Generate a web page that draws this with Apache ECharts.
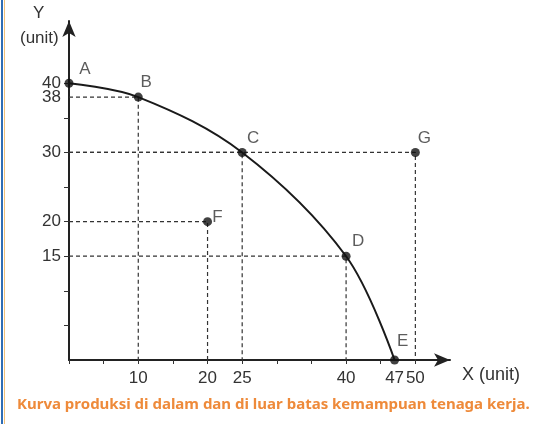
<!DOCTYPE html>
<html>
<head>
<meta charset="utf-8">
<script src="https://cdn.jsdelivr.net/npm/echarts@6/dist/echarts.min.js"></script>
<style>html,body{margin:0;padding:0;background:#fff}#c{width:545px;height:424px}</style>
</head>
<body>
<div id="c"></div>
<script>
// ---- data ----
var pointNames = ['A', 'B', 'C', 'D', 'E', 'F', 'G'];
var pointX = [0, 10, 25, 40, 47, 20, 50];
var pointY = [40, 38, 30, 15, 0, 20, 30];
var curveNames = ['A', 'B', 'C', 'D', 'E'];
var guideNames = ['B', 'C', 'D', 'F', 'G'];
var xTickValues = [0, 5, 10, 15, 20, 25, 30, 35, 40, 45, 50];
var xLabelValues = [10, 20, 25, 40, 47, 50];
var yTickValues = [5, 10, 15, 20, 25, 30, 35, 40];
var yLabelValues = [15, 20, 30, 40];
var yLabelValuesExtra = [38];
var caption = 'Kurva produksi di dalam dan di luar batas kemampuan tenaga kerja.';

// ---- build ----
function pt(n) { var i = pointNames.indexOf(n); return [pointX[i], pointY[i]]; }
var labelOffsets = { A: [16, -14], B: [8, -15], C: [11, -14], D: [12, -15], E: [8, -19], F: [10, -4], G: [9, -14] };

var series = [];
guideNames.forEach(function (n) {
  var p = pt(n);
  series.push({
    type: 'line', silent: true, symbol: 'none', animation: false,
    data: [[0, p[1]], [p[0], p[1]], [p[0], 0]],
    lineStyle: { color: '#333', width: 1.2, type: [4, 3] }
  });
});
series.push({
  type: 'line', symbol: 'none', animation: false, smooth: 0.35,
  data: curveNames.map(pt),
  lineStyle: { color: '#1a1a1a', width: 2 }
});
series.push({
  type: 'scatter', animation: false, symbolSize: 9, z: 5,
  itemStyle: { color: '#111' },
  data: pointNames.map(function (n) {
    return {
      value: pt(n),
      label: {
        show: true, formatter: n, position: 'inside', offset: labelOffsets[n],
        color: '#333', fontSize: 17, fontFamily: 'Liberation Sans, Arial, sans-serif'
      }
    };
  })
});

var axisFont = { color: '#333', fontSize: 17, fontFamily: 'Liberation Sans, Arial, sans-serif' };

var option = {
  animation: false,
  grid: { left: 69, top: 21, width: 381, height: 339 },
  xAxis: {
    type: 'value', min: 0, max: 55,
    splitLine: { show: false },
    axisLine: { lineStyle: { color: '#222', width: 2 }, symbol: ['none', 'arrow'], symbolSize: [10, 16] },
    axisTick: { show: true, length: 4, customValues: xTickValues, lineStyle: { color: '#333', width: 1 } },
    axisLabel: Object.assign({ customValues: xLabelValues, margin: 10, showMinLabel: true, showMaxLabel: true }, axisFont)
  },
  yAxis: [{
    type: 'value', min: 0, max: 49, position: 'left',
    splitLine: { show: false },
    axisLine: { lineStyle: { color: '#222', width: 2 }, symbol: ['none', 'arrow'], symbolSize: [10, 16] },
    axisTick: { show: true, length: 5, customValues: yTickValues, lineStyle: { color: '#333', width: 1 } },
    axisLabel: Object.assign({ customValues: yLabelValues, margin: 8, showMinLabel: true, showMaxLabel: true }, axisFont)
  }, {
    type: 'value', min: 0, max: 49, position: 'left', offset: 0,
    splitLine: { show: false },
    axisLine: { show: false },
    axisTick: { show: false },
    axisLabel: Object.assign({ customValues: yLabelValuesExtra, margin: 8, showMinLabel: true, showMaxLabel: true }, axisFont)
  }],
  graphic: [
    { type: 'rect', shape: { x: 1, y: 0, width: 2, height: 424 }, style: { fill: '#2f6db5' } },
    { type: 'rect', shape: { x: 4, y: 0, width: 1, height: 424 }, style: { fill: '#f3c27a' } },
    { type: 'text', left: 33, top: 5, style: { text: 'Y', fill: '#333', font: '17px Liberation Sans, Arial, sans-serif' } },
    { type: 'text', left: 20, top: 30, style: { text: '(unit)', fill: '#333', font: '17px Liberation Sans, Arial, sans-serif' } },
    { type: 'text', left: 462, top: 366, style: { text: 'X (unit)', fill: '#333', font: '18px Liberation Sans, Arial, sans-serif' } },
    { type: 'text', left: 17, top: 397, style: { text: caption, fill: '#ee8a3a', font: 'bold 15px Noto Sans, sans-serif' } }
  ],
  series: series
};
echarts.init(document.getElementById('c')).setOption(option);
</script>
</body>
</html>
